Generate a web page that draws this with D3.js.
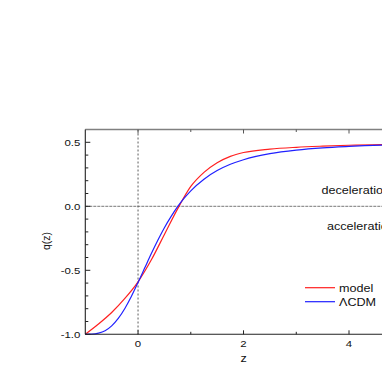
<!DOCTYPE HTML>
<html>
<head>
    <meta charset="utf-8">
    <title>q(z)</title>
    <script type="text/javascript" src="https://cdn.jsdelivr.net/npm/d3@7/dist/d3.min.js"></script>
    <style>
        body { margin: 0; background: white; }
        .paint-board { background-color: white; font-family: "Liberation Sans", Arial, sans-serif; }
    </style>
</head>
<body>
    <div id="panel"></div>
    <script>
        // redshift samples and deceleration parameter
        var z_model = [-1, -0.75, -0.5, -0.25, 0, 0.25, 0.5, 0.75, 1.0, 1.25, 1.5, 1.75, 2, 2.5, 3, 3.5, 4, 5, 6];
        var q_model = [-1, -0.92, -0.83, -0.72, -0.59, -0.42, -0.22, -0.02, 0.155, 0.265, 0.34, 0.39, 0.42, 0.447, 0.461, 0.47, 0.477, 0.485, 0.49];

        var z_lcdm = [-1, -0.875, -0.75, -0.625, -0.5, -0.375, -0.25, -0.125, 0, 0.125, 0.25, 0.375, 0.5, 0.625, 0.75, 0.875, 1, 1.25, 1.5, 1.75, 2, 2.5, 3, 3.5, 4, 5, 6];
        var q_lcdm = [-1, -0.999, -0.991, -0.972, -0.934, -0.876, -0.798, -0.703, -0.595, -0.483, -0.371, -0.265, -0.167, -0.081, -0.003, 0.063, 0.121, 0.212, 0.279, 0.328, 0.364, 0.411, 0.439, 0.457, 0.468, 0.482, 0.488];

        var x_major = [0, 2, 4, 6];
        var x_minor = [1, 3, 5];
        var x_labels = ["0", "2", "4"];
        var y_major = [-1.0, -0.5, 0.0, 0.5];
        var y_minor = [-0.9, -0.8, -0.7, -0.6, -0.4, -0.3, -0.2, -0.1, 0.1, 0.2, 0.3, 0.4];
        var y_labels = ["-1.0", "-0.5", "0.0", "0.5"];

        var series_names = ["model", "\u039BCDM"];
        var series_colors = ["#ff2020", "#2020ff"];

        var panel_size = 382;
        var sx = 1.2;   // the figure's text is stretched sideways

        var svg = d3.select("#panel").append("svg")
                    .attr("width", panel_size)
                    .attr("height", panel_size)
                    .attr("class", "paint-board");

        var x = d3.scaleLinear().domain([-1, 6]).range([85.3, 454.5]);
        var y = d3.scaleLinear().domain([-1, 0.6]).range([334.3, 129.5]);

        function add_text(px, py, str, size, anchor)
        {
            return svg.append("text")
                      .attr("transform", "translate(" + px + "," + py + ") scale(" + sx + ",1)")
                      .attr("font-size", size)
                      .attr("text-anchor", anchor)
                      .attr("fill", "#111")
                      .text(str);
        }

        // reference lines
        svg.append("line")
           .attr("x1", x(0)).attr("x2", x(0))
           .attr("y1", y(0.6)).attr("y2", y(-1))
           .attr("stroke", "#333").attr("stroke-width", 0.8)
           .attr("stroke-dasharray", "2,2");
        svg.append("line")
           .attr("x1", x(-1)).attr("x2", x(6))
           .attr("y1", y(0)).attr("y2", y(0))
           .attr("stroke", "#555").attr("stroke-width", 0.8)
           .attr("stroke-dasharray", "3,1");

        // curves
        var line = d3.line()
                     .x(function(d){ return x(d[0]); })
                     .y(function(d){ return y(d[1]); })
                     .curve(d3.curveMonotoneX);
        var curves = [d3.zip(z_model, q_model), d3.zip(z_lcdm, q_lcdm)];
        curves.forEach(function(pts, i){
            svg.append("path")
               .attr("d", line(pts))
               .attr("fill", "none")
               .attr("stroke", series_colors[i])
               .attr("stroke-width", 1.2);
        });

        // frame
        svg.append("line")
           .attr("x1", x(-1)).attr("x2", x(6))
           .attr("y1", y(0.6)).attr("y2", y(0.6))
           .attr("stroke", "#808080").attr("stroke-width", 1.6);
        svg.append("line")
           .attr("x1", x(-1)).attr("x2", x(6))
           .attr("y1", y(-1)).attr("y2", y(-1))
           .attr("stroke", "#222").attr("stroke-width", 1.1);
        svg.append("line")
           .attr("x1", x(-1)).attr("x2", x(-1))
           .attr("y1", y(0.6)).attr("y2", y(-1))
           .attr("stroke", "#222").attr("stroke-width", 1.1);

        // ticks, all pointing inwards
        x_major.concat(x_minor).forEach(function(v){
            var len = x_major.indexOf(v) >= 0 ? 4 : 2.5;
            svg.append("line").attr("x1", x(v)).attr("x2", x(v))
               .attr("y1", y(-1)).attr("y2", y(-1) - len)
               .attr("stroke", "#222").attr("stroke-width", 1);
            svg.append("line").attr("x1", x(v)).attr("x2", x(v))
               .attr("y1", y(0.6)).attr("y2", y(0.6) + len)
               .attr("stroke", "#555").attr("stroke-width", 1);
        });
        y_major.concat(y_minor).forEach(function(v){
            var len = y_major.indexOf(v) >= 0 ? 5 : 3;
            svg.append("line").attr("x1", x(-1)).attr("x2", x(-1) + len)
               .attr("y1", y(v)).attr("y2", y(v))
               .attr("stroke", "#222").attr("stroke-width", 1);
        });

        // tick labels
        x_labels.forEach(function(s, i){
            add_text(x(x_major[i]), y(-1) + 12.5, s, 9.5, "middle");
        });
        y_labels.forEach(function(s, i){
            add_text(x(-1) - 5, y(y_major[i]) + 3.4, s, 9.5, "end");
        });

        // axis titles
        add_text(x(2), 362, "z", 10.5, "middle");
        svg.append("text")
           .attr("transform", "translate(50,241) rotate(-90)")
           .attr("font-size", 10.5)
           .attr("text-anchor", "middle")
           .attr("fill", "#111")
           .text("q(z)");

        // annotations
        add_text(321.5, 194, "deceleration", 10.5, "start");
        add_text(327, 229.5, "acceleration", 10.5, "start");

        // legend
        series_names.forEach(function(name, i){
            var ly = 287.7 + i * 14;
            svg.append("line")
               .attr("x1", 305).attr("x2", 335)
               .attr("y1", ly).attr("y2", ly)
               .attr("stroke", series_colors[i]).attr("stroke-width", 1.2);
            add_text(339, ly + 3.8, name, 10.5, "start");
        });
    </script>
</body>
</html>
